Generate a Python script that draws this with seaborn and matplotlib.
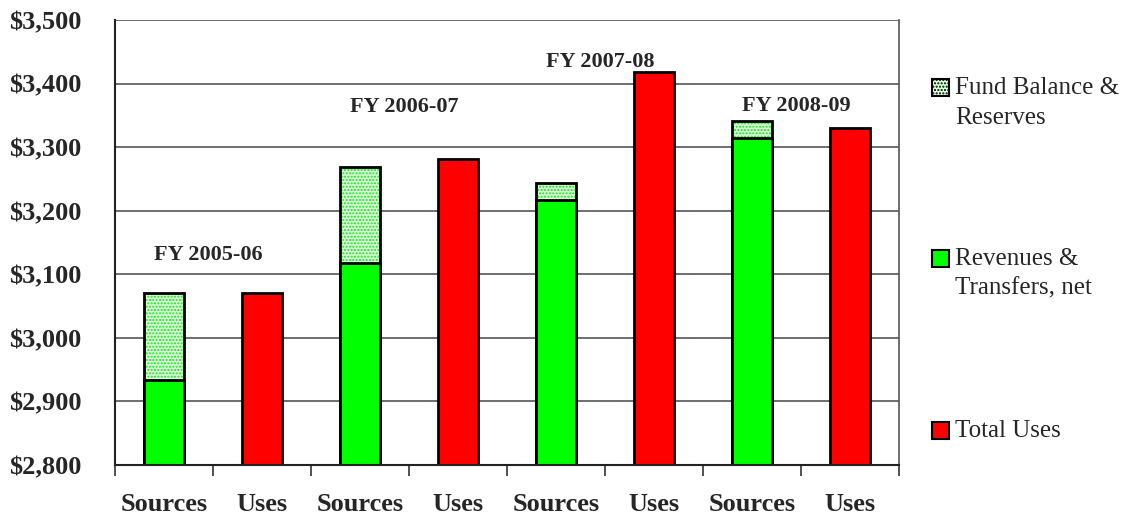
"""
Sources and uses by fiscal year, stacked sources vs total uses
"""

import pandas as pd
import numpy as np
import matplotlib.pyplot as plt
import matplotlib.patches as mpatches
import seaborn as sns

# values in $ millions
fiscal_years = ['FY 2005-06', 'FY 2006-07', 'FY 2007-08', 'FY 2008-09']
revenues = [2934, 3118, 3217, 3315]
fund_balance = [137, 151, 27, 27]
total_uses = [3071, 3282, 3418, 3331]
label_heights = [3130, 3363, 3434, 3365]
y_ticks = [2800, 2900, 3000, 3100, 3200, 3300, 3400, 3500]
legend_labels = ['Fund Balance &\nReserves', 'Revenues &\nTransfers, net', 'Total Uses']

GREEN = '#00ff00'
RED = '#ff0000'
LIGHT = '#d8ffd8'

sns.set_theme(style='white')
plt.rcParams['font.family'] = ['Liberation Serif', 'DejaVu Serif']

slots = []
for i in range(len(fiscal_years)):
    slots += [f'S{i}', f'U{i}']

src = pd.DataFrame({
    'slot': [f'S{i}' for i in range(len(fiscal_years))],
    'total': np.array(revenues) + np.array(fund_balance),
    'rev': revenues,
})
uses = pd.DataFrame({
    'slot': [f'U{i}' for i in range(len(fiscal_years))],
    'total': total_uses,
})

fig = plt.figure(figsize=(11.39, 5.19), dpi=100)
ax = fig.add_axes([0.101, 0.104, 0.688, 0.857])

ax.set_ylim(2800, 3500)
ax.set_yticks(y_ticks)
ax.yaxis.grid(True, color='#555555', linewidth=1.2)
ax.set_axisbelow(True)

w = 0.41
# fund balance layer (hatched light green), drawn as full source height
sns.barplot(data=src, x='slot', y='total', order=slots, color=LIGHT,
            width=w, ax=ax, saturation=1, hatch='.....', errorbar=None)
for p in ax.patches:
    p.set_edgecolor('#22dd22')
    p.set_linewidth(0)
# outline of the full source bar
sns.barplot(data=src, x='slot', y='total', order=slots, fill=False,
            width=w, ax=ax, edgecolor='black', linewidth=2, errorbar=None)
# revenues layer
sns.barplot(data=src, x='slot', y='rev', order=slots, color=GREEN,
            width=w, ax=ax, saturation=1, edgecolor='black', linewidth=2,
            errorbar=None)
# total uses
sns.barplot(data=uses, x='slot', y='total', order=slots, color=RED,
            width=w, ax=ax, saturation=1, edgecolor='black', linewidth=2,
            errorbar=None)

ax.set_xlim(-0.5, len(slots) - 0.5)
ax.set_xticks(np.arange(len(slots)))
ax.set_xticklabels(['Sources', 'Uses'] * len(fiscal_years),
                   fontsize=19, fontweight='bold')
ax.set_yticklabels([f'${v:,}' for v in y_ticks], fontsize=19, fontweight='bold')
ax.set_xlabel('')
ax.set_ylabel('')
ax.tick_params(axis='x', length=0, pad=20)
ax.tick_params(axis='y', length=9, width=1.2, color='#333333', pad=15)
# tick marks between categories
ax.set_xticks(np.arange(len(slots) + 1) - 0.5, minor=True)
ax.tick_params(axis='x', which='minor', length=8, width=1.2, color='#333333',
               bottom=True)

for side in ['left', 'bottom']:
    ax.spines[side].set_color('#222222')
    ax.spines[side].set_linewidth(1.5)
ax.spines['top'].set_visible(False)
ax.spines['right'].set_color('#555555')
ax.spines['right'].set_linewidth(1.2)

for i, fy in enumerate(fiscal_years):
    ax.text(2 * i + 0.45, label_heights[i], fy, ha='center', va='center',
            fontsize=16, fontweight='bold')

# legend: swatch sits beside the first line of each label
W, H = 1139, 519
legend_faces = [LIGHT, GREEN, RED]
legend_hatch = ['.....', None, None]
legend_rows = [87, 258, 430]
for face, hatch, row, lab in zip(legend_faces, legend_hatch, legend_rows, legend_labels):
    rect = mpatches.Rectangle((932 / W, 1 - (row + 8.5) / H), 17 / W, 17 / H,
                              transform=fig.transFigure, facecolor=face,
                              edgecolor='black', linewidth=1.5, hatch=hatch)
    fig.add_artist(rect)
    fig.text(955 / W, 1 - (row - 10) / H, lab, fontsize=18, va='top',
             ha='left', linespacing=1.45)

plt.savefig('out.png', dpi=100)
plt.close()
